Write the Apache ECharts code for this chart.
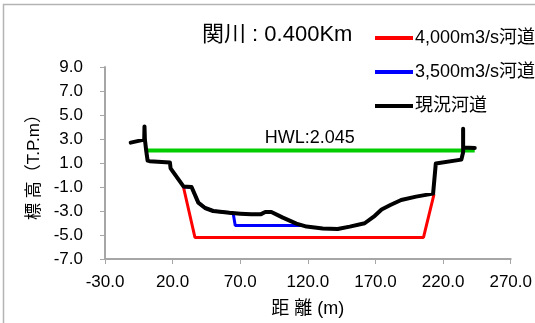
<!DOCTYPE html>
<html>
<head>
<meta charset="utf-8">
<script src="https://cdn.jsdelivr.net/npm/echarts@6/dist/echarts.min.js"></script>
<style>
  html, body { margin: 0; padding: 0; background: #fff; }
  #chart { width: 535px; height: 323px; }
</style>
</head>
<body>
<div id="chart"></div>
<script>
// Cross section of 関川 at 0.400 km: present channel, two design channels and HWL.
const xTicks = [-30, 20, 70, 120, 170, 220, 270];
const yTicks = [-7, -5, -3, -1, 1, 3, 5, 7, 9];

// 現況河道 (present channel bed): distance (m), elevation (T.P.m)
const currentX = [-11, -1, -0.8, -0.5, 0.5, 1.5, 3, 18, 18.5, 28, 34, 39, 44, 50, 62, 70, 78, 85, 88.5, 93, 101.5, 111.5, 119, 131, 142, 151, 162, 169.5, 174.5, 181, 189, 200, 212.6, 214.6, 233.5, 234.8, 234.8, 234.8, 243.4];
const currentY = [2.7, 2.95, 4.05, 2.95, 2.0, 1.2, 1.15, 1.05, 0.55, -0.95, -1.0, -2.3, -2.75, -3.0, -3.15, -3.22, -3.28, -3.28, -3.08, -3.08, -3.55, -4.05, -4.3, -4.45, -4.5, -4.3, -4.02, -3.4, -2.87, -2.5, -2.08, -1.8, -1.55, 0.96, 1.28, 1.9, 3.85, 2.3, 2.25];

// 4,000m3/s河道 (design channel)
const design4000X = [28, 36.5, 205.5, 213.3];
const design4000Y = [-1.0, -5.2, -5.2, -1.6];

// 3,500m3/s河道 (design channel)
const design3500X = [28, 34, 39, 44, 50, 62, 64.8, 66.3, 116];
const design3500Y = [-1.0, -1.0, -2.3, -2.75, -3.0, -3.15, -3.2, -4.2, -4.2];

// HWL
const hwlLevel = 2.045;
const hwlX = [-0.5, 243.4];

const pairs = (xs, ys) => xs.map((x, i) => [x, ys[i]]);

const FONT = "'Liberation Sans', 'Noto Sans CJK JP', sans-serif";
const AXIS_GRAY = '#a6a6a6';

const chart = echarts.init(document.getElementById('chart'), null, { renderer: 'canvas' });

chart.setOption({
  animation: false,
  backgroundColor: '#fff',
  textStyle: { fontFamily: FONT, color: '#000' },
  graphic: [{
    type: 'rect',
    shape: { x: 3.5, y: 4.5, width: 700, height: 500 },
    style: { fill: 'none', stroke: '#b4b4b4', lineWidth: 1.5 },
    silent: true,
    z: -10
  }],
  title: {
    text: '関川 : 0.400Km',
    left: 197,
    top: 19,
    textStyle: { fontFamily: FONT, fontSize: 22, fontWeight: 'normal', color: '#000' }
  },
  legend: {
    orient: 'vertical',
    left: 375,
    top: 29,
    padding: 0,
    itemGap: 16,
    itemWidth: 38,
    itemHeight: 4,
    icon: 'rect',
    textStyle: { fontFamily: FONT, fontSize: 18, color: '#000', padding: [0, 0, 0, -3] },
    data: ['4,000m3/s河道', '3,500m3/s河道', '現況河道']
  },
  grid: { left: 105, right: 24, top: 67, bottom: 61, containLabel: false },
  xAxis: {
    type: 'value',
    min: -30,
    max: 270,
    name: '距 離 (m)',
    nameLocation: 'middle',
    nameGap: 41,
    nameTextStyle: { fontFamily: FONT, fontSize: 18, color: '#000' },
    axisLine: { show: true, onZero: false, lineStyle: { color: AXIS_GRAY, width: 2 } },
    axisTick: { show: true, length: 5, lineStyle: { color: AXIS_GRAY, width: 1 }, customValues: xTicks },
    axisLabel: {
      customValues: xTicks,
      margin: 15,
      fontFamily: FONT,
      fontSize: 17,
      color: '#000',
      formatter: v => v.toFixed(1)
    },
    splitLine: { show: false }
  },
  yAxis: {
    type: 'value',
    min: -7,
    max: 9,
    name: '標 高（T.P.m）',
    nameLocation: 'middle',
    nameRotate: 90,
    nameGap: 62,
    nameTextStyle: { fontFamily: FONT, fontSize: 17, color: '#000' },
    axisLine: { show: true, onZero: false, lineStyle: { color: AXIS_GRAY, width: 2 } },
    axisTick: { show: true, length: 5, lineStyle: { color: AXIS_GRAY, width: 1 }, customValues: yTicks },
    axisLabel: {
      customValues: yTicks,
      margin: 22,
      fontFamily: FONT,
      fontSize: 17,
      color: '#000',
      formatter: v => v.toFixed(1)
    },
    splitLine: { show: false }
  },
  series: [
    {
      name: 'HWL',
      type: 'line',
      data: pairs(hwlX, [hwlLevel, hwlLevel]),
      showSymbol: false,
      lineStyle: { color: '#00cc00', width: 4 },
      itemStyle: { color: '#00cc00' },
      z: 1
    },
    {
      // label of the HWL line, centred above it
      name: 'HWL label',
      type: 'scatter',
      data: [[(hwlX[0] + hwlX[1]) / 2, hwlLevel]],
      symbolSize: 0,
      silent: true,
      itemStyle: { color: '#000', opacity: 0 },
      label: {
        show: true,
        position: 'top',
        distance: 3,
        formatter: 'HWL:' + hwlLevel.toFixed(3),
        fontFamily: FONT,
        fontSize: 18,
        color: '#000',
        opacity: 1,
        textBorderWidth: 0
      },
      z: 5
    },
    {
      name: '4,000m3/s河道',
      type: 'line',
      data: pairs(design4000X, design4000Y),
      showSymbol: false,
      lineStyle: { color: '#ff0000', width: 3 },
      itemStyle: { color: '#ff0000' },
      z: 2
    },
    {
      name: '3,500m3/s河道',
      type: 'line',
      data: pairs(design3500X, design3500Y),
      showSymbol: false,
      lineStyle: { color: '#0000ff', width: 3 },
      itemStyle: { color: '#0000ff' },
      z: 3
    },
    {
      name: '現況河道',
      type: 'line',
      data: pairs(currentX, currentY),
      showSymbol: false,
      lineStyle: { color: '#000000', width: 4, join: 'round', cap: 'round' },
      itemStyle: { color: '#000000' },
      z: 4
    }
  ]
});
</script>
</body>
</html>
